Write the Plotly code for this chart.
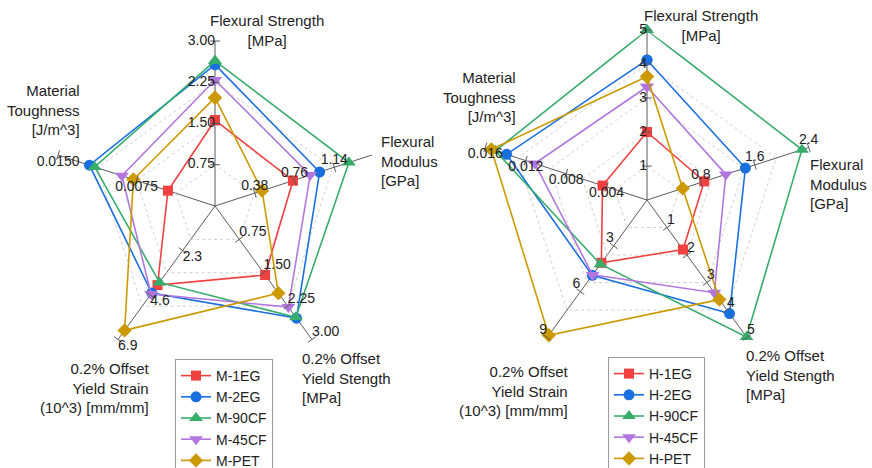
import plotly.graph_objects as go

# ---------------- data ----------------
axis_keys = ["Flexural Strength", "Flexural Modulus", "Yield Strength", "Yield Strain", "Material Toughness"]

m_names = ["M-1EG", "M-2EG", "M-90CF", "M-45CF", "M-PET"]
m_flex_strength = [1.56, 2.57, 2.64, 2.29, 1.97]
m_flex_modulus = [0.745, 1.00, 1.28, 0.91, 0.45]
m_yield_strength = [1.55, 2.52, 2.50, 2.27, 1.96]
m_yield_strain = [4.09, 4.50, 3.95, 4.55, 6.43]
m_toughness = [0.0045, 0.0120, 0.0115, 0.0089, 0.0078]
m_axis_max = [3.00, 1.50, 3.00, 6.9, 0.0150]
m_ticks = [[0.75, 1.50, 2.25, 3.00], [0.38, 0.76, 1.14], [0.75, 1.50, 2.25, 3.00], [2.3, 4.6, 6.9], [0.0075, 0.0150]]
m_tick_labels = [["0.75", "1.50", "2.25", "3.00"], ["0.38", "0.76", "1.14"], ["0.75", "1.50", "2.25", "3.00"],
                 ["2.3", "4.6", "6.9"], ["0.0075", "0.0150"]]

h_names = ["H-1EG", "H-2EG", "H-90CF", "H-45CF", "H-PET"]
h_flex_strength = [2.00, 4.12, 5.00, 3.33, 3.63]
h_flex_modulus = [0.85, 1.46, 2.30, 1.17, 0.53]
h_yield_strength = [1.80, 4.13, 4.98, 3.37, 3.62]
h_yield_strain = [4.11, 4.93, 4.20, 4.90, 8.85]
h_toughness = [0.0044, 0.0139, 0.0150, 0.0111, 0.0154]
h_axis_max = [5.0, 2.4, 5.0, 9.0, 0.016]
h_ticks = [[1, 2, 3, 4, 5], [0.8, 1.6, 2.4], [1, 2, 3, 4, 5], [3, 6, 9], [0.004, 0.008, 0.012, 0.016]]
h_tick_labels = [["1", "2", "3", "4", "5"], ["0.8", "1.6", "2.4"], ["1", "2", "3", "4", "5"],
                 ["3", "6", "9"], ["0.004", "0.008", "0.012", "0.016"]]

axis_titles = ["Flexural Strength<br>[MPa]", "Flexural<br>Modulus<br>[GPa]",
               "0.2% Offset<br>Yield Stength<br>[MPa]", "0.2% Offset<br>Yield Strain<br>(10^3) [mm/mm]",
               "Material<br>Toughness<br>[J/m^3]"]

# ---------------- styles ----------------
colors = ["#F14040", "#1A6FDF", "#37AD6B", "#B177DE", "#CC9900"]
symbols = ["square", "circle", "triangle-up", "triangle-down", "diamond"]
msizes = [10, 11, 12, 12, 11]
FONT = "Liberation Sans, Arial, sans-serif"
SPOKE = "#5a5a5a"
W, H = 872, 468

fig = go.Figure()


def add_chart(names, series, amax, ticks, labels, polar, legend, strain_pos):
    cats = axis_keys + [axis_keys[0]]
    for i, name in enumerate(names):
        vals = [series[k][i] / amax[k] for k in range(5)]
        vals = vals + [vals[0]]
        fig.add_trace(go.Scatterpolar(
            r=vals, theta=cats, mode="lines+markers", name=name, subplot=polar, legend=legend,
            line=dict(color=colors[i], width=1.6),
            marker=dict(symbol=symbols[i], size=msizes[i], color=colors[i]),
        ))
    positions = ["middle left", "top center", "top right", strain_pos, "bottom center"]
    for k in range(5):
        rr = [t / amax[k] for t in ticks[k]]
        th = [axis_keys[k]] * len(rr)
        fig.add_trace(go.Scatterpolar(
            r=rr, theta=th, mode="markers", subplot=polar, showlegend=False, hoverinfo="skip",
            marker=dict(symbol="line-ew", size=7, angle=72 * k, color=SPOKE,
                        line=dict(color=SPOKE, width=1)),
        ))
        fig.add_trace(go.Scatterpolar(
            r=rr, theta=th, mode="text", text=labels[k], textposition=positions[k],
            subplot=polar, showlegend=False, hoverinfo="skip",
            textfont=dict(family=FONT, size=14, color="#222"),
        ))


add_chart(m_names, [m_flex_strength, m_flex_modulus, m_yield_strength, m_yield_strain, m_toughness],
          m_axis_max, m_ticks, m_tick_labels, "polar", "legend", "bottom right")
add_chart(h_names, [h_flex_strength, h_flex_modulus, h_yield_strength, h_yield_strain, h_toughness],
          h_axis_max, h_ticks, h_tick_labels, "polar2", "legend2", "top left")


def polar_layout(cx, cy, R, nrings):
    return dict(
        domain=dict(x=[(cx - R) / W, (cx + R) / W], y=[(H - cy - R) / H, (H - cy + R) / H]),
        gridshape="linear", bgcolor="white",
        radialaxis=dict(range=[0, 1.0], tickvals=[(j + 1) / nrings for j in range(nrings)],
                        showticklabels=False, ticks="", showline=False,
                        gridcolor="#cfcfcf", griddash="dot", gridwidth=1),
        angularaxis=dict(type="category", categoryarray=axis_keys, rotation=90, direction="clockwise",
                         showticklabels=False, ticks="", showline=False,
                         gridcolor=SPOKE, gridwidth=1),
    )


def ann(text, x, y, xanchor, align):
    return dict(text=text, x=x / W, y=1 - y / H, xref="paper", yref="paper", xanchor=xanchor,
                yanchor="middle", align=align, showarrow=False,
                font=dict(family=FONT, size=15, color="#222"))


annotations = []
left_pos = [(267, 31, "center", "center"), (379, 161, "left", "left"), (300, 378, "left", "left"),
            (152, 388, "right", "right"), (82, 110, "right", "right")]
right_pos = [(701, 25, "center", "center"), (808, 184, "left", "left"), (744, 375, "left", "left"),
             (571, 391, "right", "right"), (518, 97, "right", "right")]
for k in range(5):
    x, y, xa, al = left_pos[k]
    annotations.append(ann(axis_titles[k], x, y, xa, al))
    x, y, xa, al = right_pos[k]
    annotations.append(ann(axis_titles[k], x, y, xa, al))

legend_style = dict(font=dict(family=FONT, size=14, color="#222"), bgcolor="white",
                    bordercolor="#9a9a9a", borderwidth=1, xanchor="left", yanchor="top",
                    tracegroupgap=0, itemwidth=30)

fig.update_layout(
    width=W, height=H, margin=dict(l=0, r=0, t=0, b=0, autoexpand=False),
    paper_bgcolor="white", plot_bgcolor="white",
    font=dict(family=FONT, color="#222"),
    polar=polar_layout(215, 206, 165, 4),
    polar2=polar_layout(647, 200, 170, 5),
    legend=dict(x=175 / W, y=1 - 359 / H, **legend_style),
    legend2=dict(x=608 / W, y=1 - 357 / H, **legend_style),
    annotations=annotations,
)

fig.write_html("out.html", config={"displayModeBar": False},
               post_script="document.body.style.margin='0';")
